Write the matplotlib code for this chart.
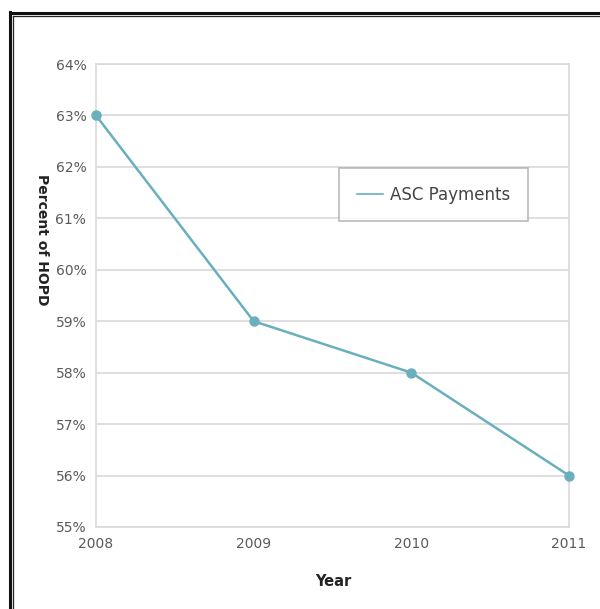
import matplotlib
matplotlib.use("Agg")
import matplotlib.pyplot as plt
from matplotlib.lines import Line2D
from matplotlib.ticker import FuncFormatter

years = [2008, 2009, 2010, 2011]
asc_payments = [63, 59, 58, 56]
series_label = "ASC Payments"
y_ticks = [55, 56, 57, 58, 59, 60, 61, 62, 63, 64]

W, H = 600, 609
fig = plt.figure(figsize=(W / 100, H / 100), dpi=100)
fig.patch.set_facecolor("white")

font = ["DejaVu Sans"]
line_color = "#6aafbd"
grid_color = "#d9d9d9"
text_color = "#5a5a5a"

ax = fig.add_axes([96 / W, 1 - 527 / H, (569 - 96) / W, (527 - 64) / H])
ax.plot(years, asc_payments, color=line_color, lw=1.8, marker="o", ms=6.5,
        label=series_label, clip_on=False, zorder=3)

ax.set_xlim(2008, 2011)
ax.set_ylim(55, 64)
ax.set_xticks(years)
ax.set_yticks(y_ticks)
ax.yaxis.set_major_formatter(FuncFormatter(lambda v, p: f"{v:.0f}%"))
ax.grid(axis="y", color=grid_color, lw=1.2)
ax.set_axisbelow(True)
for s in ax.spines.values():
    s.set_color(grid_color)
    s.set_linewidth(1.2)
ax.tick_params(axis="both", length=0, labelsize=10, labelcolor=text_color)
ax.tick_params(axis="x", pad=7)
ax.tick_params(axis="y", pad=7)
for lbl in ax.get_xticklabels() + ax.get_yticklabels():
    lbl.set_fontfamily(font)

leg = ax.legend(loc="upper left", bbox_to_anchor=((339 - 96) / (569 - 96), 1 - (168 - 64) / (527 - 64)),
                frameon=True, fancybox=False, handlelength=1.6, borderpad=1.05,
                borderaxespad=0, prop={"family": font, "size": 12}, handletextpad=0.4)
leg.get_frame().set_edgecolor("#a8a8a8")
leg.get_frame().set_linewidth(1.2)
for t in leg.get_texts():
    t.set_color("#444444")
for h in leg.legend_handles:
    h.set_marker("")
    h.set_linewidth(1.2)

fig.text(42 / W, 1 - 240 / H, "Percent of HOPD", rotation=-90, ha="center", va="center",
         fontsize=10, fontweight="bold", family=font, color="#222222")
fig.text(333 / W, 1 - 582 / H, "Year", ha="center", va="center",
         fontsize=10.5, fontweight="bold", family=font, color="#222222")

# double frame along top and left edges
fig.add_artist(Line2D([9.5 / W, 9.5 / W], [0, 1 - 12 / H], transform=fig.transFigure,
                      color="#111111", lw=2.2))
fig.add_artist(Line2D([9.5 / W, 1], [1 - 13 / H, 1 - 13 / H], transform=fig.transFigure,
                      color="#111111", lw=2.2))
fig.add_artist(Line2D([13 / W, 13 / W], [0, 1 - 16 / H], transform=fig.transFigure,
                      color="#222222", lw=0.9))
fig.add_artist(Line2D([13 / W, 1], [1 - 16 / H, 1 - 16 / H], transform=fig.transFigure,
                      color="#222222", lw=0.9))

fig.savefig("out.png", dpi=100, facecolor="white")
